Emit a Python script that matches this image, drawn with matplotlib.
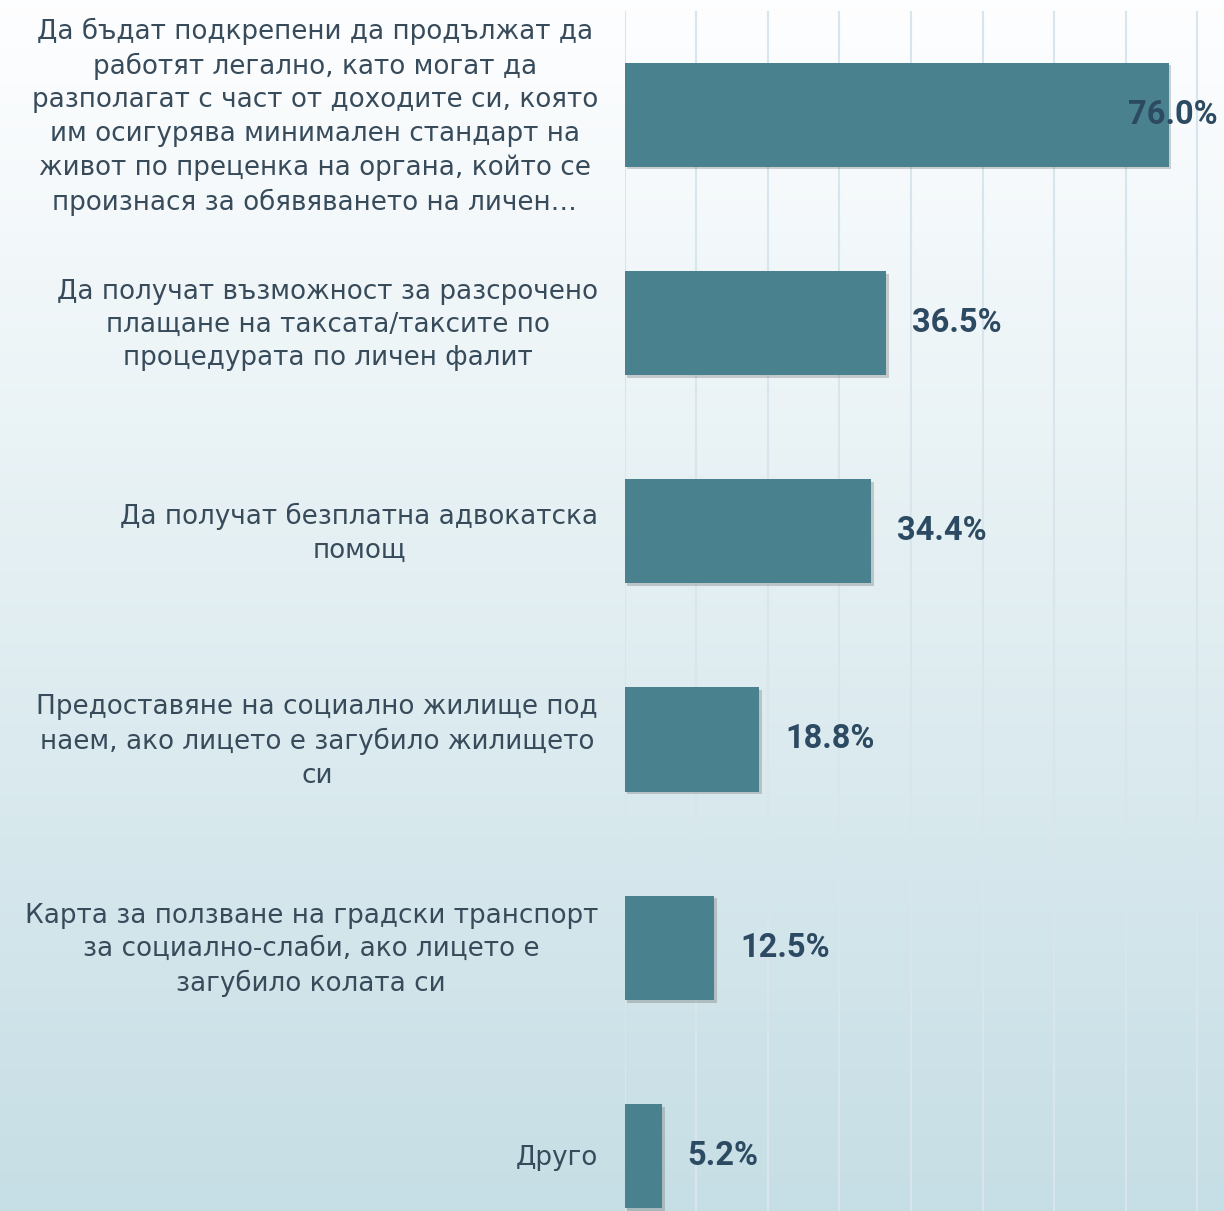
import numpy as np
import matplotlib
matplotlib.use("Agg")
import matplotlib.pyplot as plt
import matplotlib.patheffects as pe

# data
categories = [
    "Да бъдат подкрепени да продължат да\nработят легално, като могат да\n"
    "разполагат с част от доходите си, която\nим осигурява минимален стандарт на\n"
    "живот по преценка на органа, който се\nпроизнася за обявяването на личен…",
    "Да получат възможност за разсрочено\nплащане на таксата/таксите по\nпроцедурата по личен фалит",
    "Да получат безплатна адвокатска\nпомощ",
    "Предоставяне на социално жилище под\nнаем, ако лицето е загубило жилището\nси",
    "Карта за ползване на градски транспорт\nза социално-слаби, ако лицето е\nзагубило колата си",
    "Друго",
]
values = [76.0, 36.5, 34.4, 18.8, 12.5, 5.2]
value_labels = ["76.0%", "36.5%", "34.4%", "18.8%", "12.5%", "5.2%"]

W, H = 1224, 1211
DPI = 100
BAR_COLOR = "#4a818f"
LABEL_COLOR = "#374b5b"
VALUE_COLOR = "#2d4a63"
GRID_COLOR = "#d8e5ec"

fig = plt.figure(figsize=(W / DPI, H / DPI), dpi=DPI)

# background gradient, white at top to pale blue at bottom
bg = fig.add_axes([0, 0, 1, 1], zorder=-10)
top = np.array([0.995, 0.997, 1.0])
bottom = np.array([0.776, 0.871, 0.898])
t = np.linspace(0, 1, 256)[:, None]
grad = top * (1 - t) + bottom * t
bg.imshow(grad[:, None, :], aspect="auto", extent=[0, 1, 0, 1])
bg.axis("off")

left_px = 624.5
ax_top = 1 - 10.5 / H
ax = fig.add_axes([left_px / W, 0, 1 - left_px / W, ax_top])
ax.set_facecolor("none")

y = np.arange(len(values))
bars = ax.barh(y, values, height=0.5, color=BAR_COLOR, zorder=3)
for b in bars:
    b.set_path_effects([pe.SimplePatchShadow(offset=(2, -2), shadow_rgbFace="#666666", alpha=0.3),
                        pe.Normal()])

xmax = (W - left_px) / 7.16
ax.set_xlim(0, xmax)
ax.set_ylim(5.264, -0.5)
ax.set_xticks(np.arange(0, 81, 10))
ax.xaxis.grid(True, color=GRID_COLOR, linewidth=1.5, zorder=0)
ax.tick_params(length=0, labelbottom=False, labelleft=False)
ax.set_yticks([])
for s in ax.spines.values():
    s.set_visible(False)

# category labels to the left of the bars
label_x = (598 - left_px) / (W - left_px)
for yi, lab in zip(y, categories):
    ax.text(label_x, yi + 0.01, lab, transform=ax.get_yaxis_transform(), ha="right", va="center",
            multialignment="center", fontsize=18.9, color=LABEL_COLOR,
            family="DejaVu Sans", linespacing=1.37)

# value labels
off = 26 / 7.16
for yi, v, txt in zip(y, values, value_labels):
    if v + off + 14 > xmax:
        ax.text(xmax - 6 / 7.16, yi, txt, ha="right", va="center", fontsize=23.5,
                fontweight="bold", color=VALUE_COLOR, family="Roboto", zorder=5)
    else:
        ax.text(v + off, yi, txt, ha="left", va="center", fontsize=23.5,
                fontweight="bold", color=VALUE_COLOR, family="Roboto", zorder=5)

fig.savefig("out.png", dpi=DPI)
